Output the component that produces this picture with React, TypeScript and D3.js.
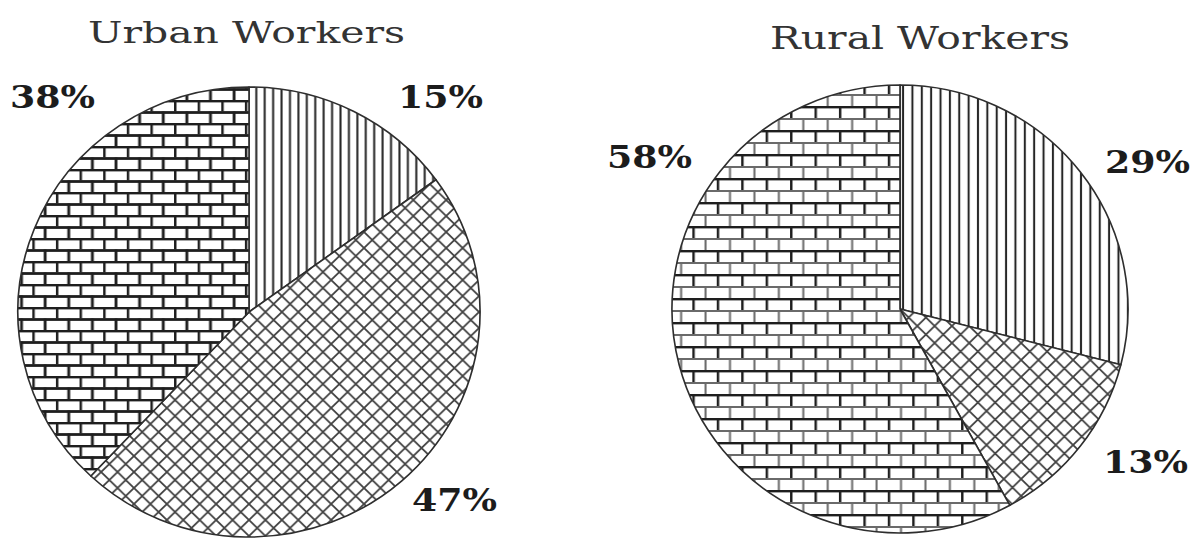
import React from "react";
import * as d3 from "d3";

// ---- data ----
const categories = ["Casual Wage Labourers", "Regular Salaried Employees", "Self-employed"];
const urbanValues = [15, 47, 38];
const ruralValues = [29, 13, 58];
const urbanLabels = ["15%", "47%", "38%"];
const ruralLabels = ["29%", "13%", "58%"];
const titles = ["Urban Workers", "Rural Workers"];

// ---- layout ----
const W = 1201;
const H = 539;
const charts = [
  {
    key: "u",
    title: titles[0],
    values: urbanValues,
    labels: urbanLabels,
    cx: 249, cy: 312, r: 225, sx: 1.027,
    titleX: 88, titleY: 43, titleLen: 317, titleSize: 30,
    labelPos: [[398, 108], [412, 511], [10, 108]],
    vSpace: 8.2, crossP: 16, brickW: 23, brickH: 11.5, lightRows: false,
  },
  {
    key: "r",
    title: titles[1],
    values: ruralValues,
    labels: ruralLabels,
    cx: 900, cy: 309, r: 224, sx: 1.018,
    titleX: 770, titleY: 49, titleLen: 300, titleSize: 31,
    labelPos: [[1105, 173], [1103, 473], [607, 168]],
    vSpace: 9.2, crossP: 17, brickW: 24, brickH: 12, lightRows: true,
  },
];
const patternKinds = ["vert", "cross", "brick"];

function Patterns({ c }: { c: (typeof charts)[number] }) {
  const p = c.crossP;
  return (
    <>
      <pattern id={`vert-${c.key}`} patternUnits="userSpaceOnUse" width={c.vSpace} height={20} x={c.cx}>
        <rect width={c.vSpace} height={20} fill="#fff" />
        <line x1={c.vSpace / 2} y1={0} x2={c.vSpace / 2} y2={20} stroke="#262626" strokeWidth={2} />
      </pattern>
      <pattern id={`cross-${c.key}`} patternUnits="userSpaceOnUse" width={p} height={p}>
        <rect width={p} height={p} fill="#fff" />
        <path
          d={`M0,0L${p},${p}M${p},0L0,${p}M${-p / 2},${p / 2}L${p / 2},${p * 1.5}M${p / 2},${-p / 2}L${p * 1.5},${p / 2}M${p / 2},${-p / 2}L${-p / 2},${p / 2}M${p * 1.5},${p / 2}L${p / 2},${p * 1.5}`}
          stroke="#444"
          strokeWidth={1.8}
          fill="none"
        />
      </pattern>
      <pattern id={`brick-${c.key}`} patternUnits="userSpaceOnUse" width={c.brickW} height={c.brickH * 2} x={c.cx} y={c.cy - c.r}>
        <rect width={c.brickW} height={c.brickH * 2} fill="#fff" />
        <line x1={0} y1={1} x2={c.brickW} y2={1} stroke="#1e1e1e" strokeWidth={2.8} />
        <line x1={1} y1={0} x2={1} y2={c.brickH} stroke="#1e1e1e" strokeWidth={2.8} />
        <line x1={0} y1={c.brickH + 1} x2={c.brickW} y2={c.brickH + 1} stroke={c.lightRows ? "#6a6a6a" : "#1e1e1e"} strokeWidth={c.lightRows ? 2 : 2.8} />
        <line x1={c.brickW / 2 + 1} y1={c.brickH} x2={c.brickW / 2 + 1} y2={c.brickH * 2} stroke={c.lightRows ? "#6a6a6a" : "#1e1e1e"} strokeWidth={c.lightRows ? 2 : 2.8} />
      </pattern>
    </>
  );
}

function PieChart({ c }: { c: (typeof charts)[number] }) {
  const pie = d3.pie<number>().sort(null).value((d) => d);
  const arcs = pie(c.values);
  const arc = d3.arc<d3.PieArcDatum<number>>().innerRadius(0).outerRadius(c.r);
  return (
    <g>
      <g transform={`translate(${c.cx},${c.cy}) scale(${c.sx},1)`}>
        {arcs.map((a, i) => (
          <path
            key={categories[i]}
            d={arc(a) || ""}
            fill={`url(#${patternKinds[i]}-${c.key})`}
            stroke="#2e2e2e"
            strokeWidth={1.6}
            strokeLinejoin="round"
          />
        ))}
      </g>
      <text
        x={c.titleX}
        y={c.titleY}
        textLength={c.titleLen}
        lengthAdjust="spacingAndGlyphs"
        fontFamily="'DejaVu Serif', serif"
        fontSize={c.titleSize}
        fill="#333"
      >
        {c.title}
      </text>
      {c.labels.map((l, i) => (
        <text
          key={l}
          x={c.labelPos[i][0]}
          y={c.labelPos[i][1]}
          textLength={85}
          lengthAdjust="spacingAndGlyphs"
          fontFamily="'DejaVu Serif', serif"
          fontWeight="bold"
          fontSize={32}
          fill="#1c1c1c"
        >
          {l}
        </text>
      ))}
    </g>
  );
}

export default function App() {
  return (
    <svg width={W} height={H} style={{ position: "absolute", left: 0, top: 0, background: "#fff" }}>
      <defs>
        {charts.map((c) => (
          <Patterns key={c.key} c={c} />
        ))}
      </defs>
      <rect width={W} height={H} fill="#fff" />
      {charts.map((c) => (
        <PieChart key={c.key} c={c} />
      ))}
    </svg>
  );
}
